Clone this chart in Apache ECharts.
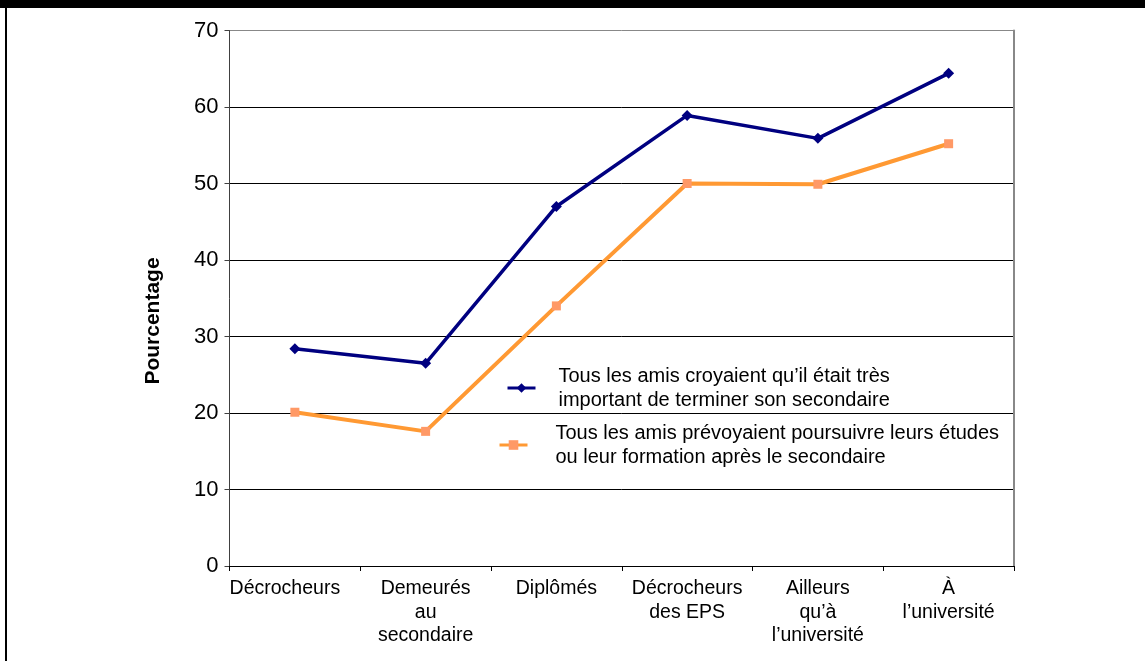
<!DOCTYPE html>
<html>
<head>
<meta charset="utf-8">
<script src="https://cdn.jsdelivr.net/npm/echarts@6/dist/echarts.min.js"></script>
<style>
html,body{margin:0;padding:0;background:#fff;}
#c{width:1145px;height:661px;}
</style>
</head>
<body>
<div id="c"></div>
<script>
const categories = ['Décrocheurs', 'Demeurés\nau\nsecondaire', 'Diplômés', 'Décrocheurs\ndes EPS', 'Ailleurs\nqu\u2019à\nl\u2019université', 'À\nl\u2019université'];
const seriesNames = ['Tous les amis croyaient qu\u2019il était très\nimportant de terminer son secondaire',
                     'Tous les amis prévoyaient poursuivre leurs études\nou leur formation après le secondaire'];
const valuesImportant = [28.4, 26.5, 47.0, 58.9, 55.9, 64.4];
const valuesPoursuivre = [20.1, 17.6, 34.0, 50.0, 49.9, 55.2];
const yMin = 0, yMax = 70, yStep = 10;
const yTitle = 'Pourcentage';

const font = '"Liberation Sans", Arial, sans-serif';
const catData = categories.map((c, i) => i === 0 ? {value: c, textStyle: {padding: [0, 20, 0, 0]}} : c);
const chart = echarts.init(document.getElementById('c'), null, {renderer: 'canvas'});
chart.setOption({
  animation: false,
  backgroundColor: '#fff',
  grid: {left: 229.5, top: 30.5, right: 131, bottom: 95, containLabel: false},
  xAxis: {
    type: 'category', data: catData, boundaryGap: true,
    axisLine: {lineStyle: {color: '#000', width: 1}},
    axisTick: {show: true, inside: false, length: 5, lineStyle: {color: '#000'}},
    axisLabel: {color: '#000', fontFamily: font, fontSize: 19.5, lineHeight: 23.5, margin: 11, interval: 0}
  },
  yAxis: [{
    type: 'value', min: yMin, max: yMax, interval: yStep,
    axisLine: {show: true, lineStyle: {color: '#404040', width: 1}},
    axisTick: {show: true, inside: false, length: 5, lineStyle: {color: '#404040'}},
    axisLabel: {color: '#000', fontFamily: font, fontSize: 22, margin: 11},
    splitLine: {show: true, lineStyle: {color: ['#000','#000','#000','#000','#000','#000','#000','#888'], width: 1}}
  }, {
    type: 'value', min: yMin, max: yMax, interval: yStep, position: 'right',
    axisLine: {show: true, lineStyle: {color: '#888', width: 2}},
    axisTick: {show: false}, axisLabel: {show: false}, splitLine: {show: false}
  }],
  legend: [{
    data: [seriesNames[0]], orient: 'vertical', left: 506, top: 364, padding: 0,
    itemWidth: 28, itemHeight: 12, lineStyle: {width: 3},
    textStyle: {color: '#000', fontFamily: font, fontSize: 20, lineHeight: 24, padding: [0, 0, 0, 18]}
  }, {
    data: [seriesNames[1]], orient: 'vertical', left: 498, top: 421, padding: 0,
    itemWidth: 28, itemHeight: 12, lineStyle: {width: 3},
    textStyle: {color: '#000', fontFamily: font, fontSize: 20, lineHeight: 24, padding: [0, 0, 0, 23]}
  }],
  graphic: [
    {type: 'rect', shape: {x: 0, y: 0, width: 1145, height: 8}, style: {fill: '#000'}},
    {type: 'rect', shape: {x: 5, y: 0, width: 2, height: 661}, style: {fill: '#000'}},
    {type: 'text', x: 153, y: 321, rotation: Math.PI / 2,
     style: {text: yTitle, fontFamily: font, fontSize: 21, fontWeight: 'bold', fill: '#000', align: 'center', verticalAlign: 'middle'}}
  ],
  series: [{
    name: seriesNames[0], type: 'line', data: valuesImportant,
    symbol: 'diamond', symbolSize: 11,
    lineStyle: {color: '#000080', width: 3.5},
    itemStyle: {color: '#000080'}
  }, {
    name: seriesNames[1], type: 'line', data: valuesPoursuivre,
    symbol: 'rect', symbolSize: 9,
    lineStyle: {color: '#FF9933', width: 4},
    itemStyle: {color: '#FF9966'}
  }]
});
</script>
</body>
</html>
